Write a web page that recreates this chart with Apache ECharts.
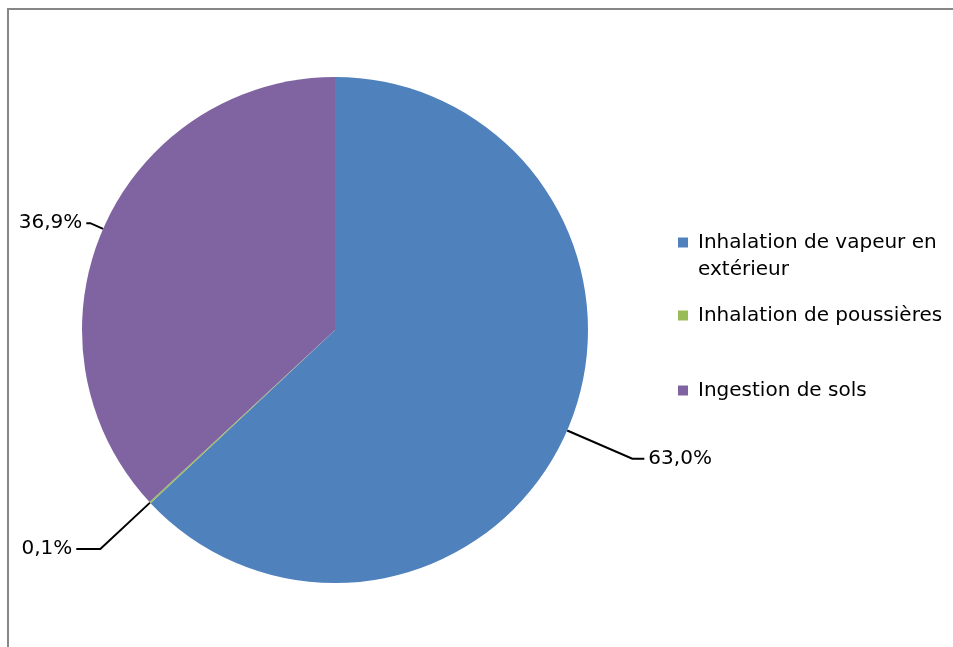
<!DOCTYPE html>
<html>
<head>
<meta charset="utf-8">
<script src="https://cdn.jsdelivr.net/npm/echarts@6/dist/echarts.min.js"></script>
<style>
  html, body { margin: 0; padding: 0; background: #fff; }
  #chart { width: 953px; height: 647px; }
</style>
</head>
<body>
<div id="chart"></div>
<script>
// données
const names = ['Inhalation de vapeur en extérieur', 'Inhalation de poussières', 'Ingestion de sols'];
const values = [63.0, 0.1, 36.9];
const colors = ['#4F81BD', '#9BBB59', '#8064A2'];
// longueurs des traits de rappel (px)
const lineLen = [71, 68, 14];
const lineLen2 = [12, 24, 4];

const chart = echarts.init(document.getElementById('chart'));

const legendTops = [202, 302, 377];

// une légende par entrée pour reproduire les écarts irréguliers
const legends = names.map((n, i) => ({
  data: [n],
  orient: 'vertical',
  left: 678,
  top: legendTops[i],
  padding: 0,
  icon: 'rect',
  itemWidth: 10,
  itemHeight: 10,
  selectedMode: false,
  // ligne vide en tête : le carré reste en face de la 1re ligne
  formatter: (name) => name === names[0] ? '\nInhalation de vapeur en\nextérieur' : name,
  textStyle: {
    fontFamily: 'DejaVu Sans',
    fontSize: 20,
    color: '#000',
    lineHeight: 27,
    padding: [0, 0, 0, 5]
  }
}));

chart.setOption({
  animation: false,
  color: colors,
  graphic: [{
    type: 'rect',
    shape: { x: 8, y: 9, width: 1000, height: 700 },
    style: { fill: 'none', stroke: '#878787', lineWidth: 2 },
    silent: true
  }],
  legend: legends,
  series: [{
    type: 'pie',
    center: [335, 330],
    radius: 253,
    startAngle: 90,
    clockwise: true,
    avoidLabelOverlap: false,
    itemStyle: { borderWidth: 0 },
    label: {
      show: true,
      position: 'outside',
      fontFamily: 'DejaVu Sans',
      fontSize: 20,
      color: '#000',
      distanceToLabelLine: 4,
      formatter: (p) => p.value.toFixed(1).replace('.', ',') + '%'
    },
    labelLine: {
      show: true,
      lineStyle: { color: '#000', width: 2 }
    },
    emphasis: { disabled: true },
    data: names.map((n, i) => ({
      name: n,
      value: values[i],
      labelLine: { length: lineLen[i], length2: lineLen2[i] }
    }))
  }]
});
</script>
</body>
</html>
